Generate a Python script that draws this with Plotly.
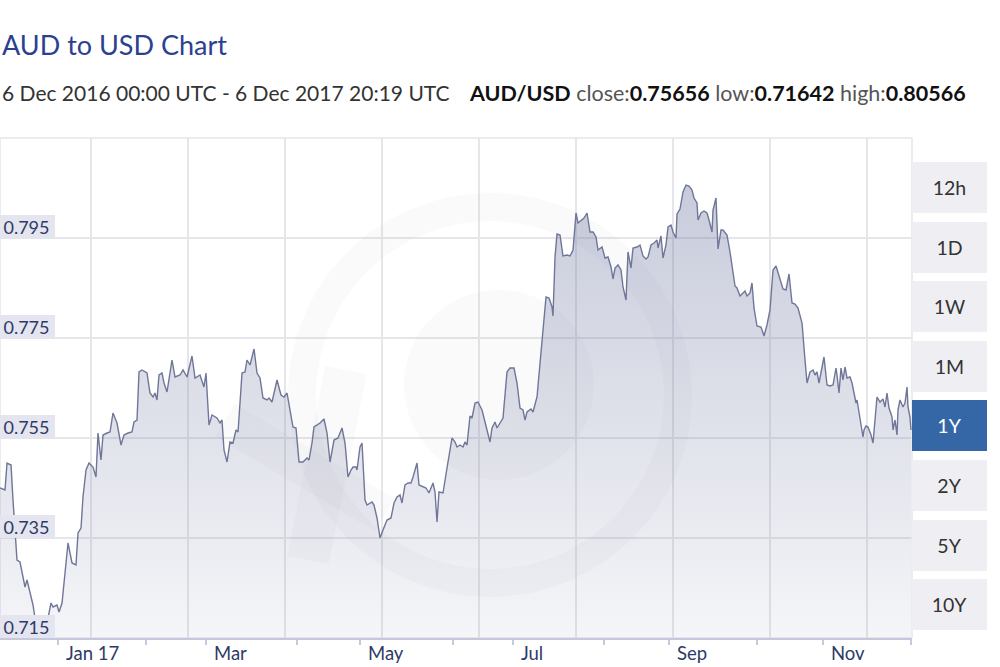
import pandas as pd
import plotly.graph_objects as go

# ---------------- data ----------------
START = pd.Timestamp("2016-12-06 00:00")  # start of the 1Y window (UTC)

# time of each quote, in days since START
day_offsets = [
    2.94, 4.93, 5.73, 7.32, 8.11, 8.91, 9.70, 10.89, 12.88, 13.68, 14.87, 16.06, 16.86, 18.05,
    19.64, 21.23, 22.43, 23.22, 24.02, 25.61, 26.40, 27.60, 28.79, 29.98, 31.57, 33.16, 33.96,
    35.15, 35.94, 37.14, 38.33, 39.92, 41.11, 41.91, 43.10, 43.90, 45.49, 46.68, 47.87, 49.46,
    51.05, 52.25, 53.84, 55.43, 56.22, 57.42, 58.21, 59.40, 61.39, 62.58, 63.78, 64.57, 65.37,
    66.16, 67.35, 68.15, 69.34, 71.33, 72.52, 74.51,
    75.71, 77.30, 79.28, 80.48, 82.46, 84.05, 84.85, 86.04, 87.24, 89.22, 90.42, 91.21, 92.01,
    93.20, 94.39, 95.59, 96.78, 97.58, 99.17, 100.36, 101.15, 102.35, 103.94, 105.13, 106.32,
    107.52, 109.11, 109.90, 111.09, 113.08, 114.67, 115.87, 117.06, 118.65, 119.44, 120.64,
    121.83, 123.42, 125.01, 125.81, 127.00, 127.79, 130.18, 131.77, 132.97, 134.16, 135.35,
    135.75, 137.34, 138.93, 140.12, 141.31, 142.51, 143.30, 144.49, 144.89, 146.08, 146.88,
    148.07, 148.87, 150.85, 151.65,
    152.84, 154.04, 155.23, 156.82, 158.41, 159.60, 160.80, 161.99, 162.78, 163.98, 165.17,
    166.36, 167.16, 168.75, 169.54, 171.13, 172.33, 173.52, 175.11, 175.90, 176.70, 177.49,
    179.08, 180.67, 182.66, 183.86, 184.65, 185.84, 187.04, 187.83, 188.63, 189.82, 190.61,
    191.81, 193.00, 194.59, 195.78, 197.77, 198.57, 199.76, 200.56, 202.94, 204.53, 205.73,
    207.32, 208.51, 209.70, 210.89, 211.69, 212.48, 214.07, 214.87, 216.46, 217.66, 218.85,
    220.04, 221.23, 222.43, 222.82, 223.62, 224.41, 225.61, 226.80, 228.39, 229.58,
    230.78, 231.97, 232.76, 233.95, 235.15, 236.34, 237.53, 238.73, 239.92, 240.72, 242.31,
    243.50, 244.69, 245.89, 246.68, 247.48, 248.67, 249.86, 250.66, 251.85, 252.64, 253.84,
    254.63, 256.22, 257.41, 258.61, 259.80, 260.60, 261.79, 262.98, 264.17, 264.57, 265.76,
    266.56, 267.75, 268.55, 269.74, 270.54, 271.73, 272.12, 273.32, 274.51, 275.70, 276.90,
    278.09, 278.88, 280.08, 280.47, 281.67, 282.86, 284.05, 284.85, 286.04, 286.44, 287.63,
    288.43, 289.62, 290.41, 292.00, 293.20, 294.39, 295.19, 295.98, 297.17, 298.37, 299.16,
    299.96, 301.15, 301.94, 302.74,
    303.93, 305.52, 306.72, 307.91, 309.10, 310.30, 311.49, 312.68, 314.27, 315.47, 316.66,
    317.85, 319.04, 320.24, 321.83, 323.02, 323.82, 325.01, 326.20, 327.00, 327.79, 328.59,
    329.78, 330.57, 331.77, 332.96, 334.15, 335.35, 335.74, 336.54, 337.33, 338.13, 338.92,
    339.72, 340.91, 341.71, 342.50, 343.30, 343.69, 344.49, 345.28, 346.08, 346.48, 347.27,
    348.07, 349.26, 350.06, 350.45, 351.25, 351.65, 352.84, 354.03, 354.83, 355.62, 356.42,
    357.61, 358.01, 358.80, 359.60, 359.99, 360.79, 361.98, 362.78, 363.58, 363.97, 364.76,
    365.16,
]

# AUD/USD rate at each quote
rates = [
    0.7450, 0.7446, 0.7500, 0.7496, 0.7426, 0.7352, 0.7306, 0.7302, 0.7252, 0.7266, 0.7240, 0.7216, 0.7190, 0.7170,
    0.7164, 0.7176, 0.7200, 0.7220, 0.7212, 0.7216, 0.7202, 0.7220, 0.7280, 0.7340, 0.7300, 0.7296, 0.7360,
    0.7370, 0.7432, 0.7486, 0.7500, 0.7492, 0.7472, 0.7560, 0.7506, 0.7556, 0.7560, 0.7562, 0.7600, 0.7580,
    0.7536, 0.7556, 0.7560, 0.7562, 0.7582, 0.7586, 0.7682, 0.7686, 0.7680, 0.7640, 0.7632, 0.7640, 0.7626,
    0.7676, 0.7680, 0.7660, 0.7642, 0.7706, 0.7672, 0.7676,
    0.7686, 0.7672, 0.7714, 0.7670, 0.7676, 0.7652, 0.7680, 0.7576, 0.7596, 0.7590, 0.7580, 0.7586, 0.7526,
    0.7502, 0.7542, 0.7540, 0.7566, 0.7562, 0.7680, 0.7682, 0.7706, 0.7696, 0.7728, 0.7680, 0.7670,
    0.7630, 0.7626, 0.7630, 0.7622, 0.7666, 0.7636, 0.7632, 0.7640, 0.7592, 0.7572, 0.7570,
    0.7502, 0.7502, 0.7510, 0.7506, 0.7540, 0.7572, 0.7580, 0.7588, 0.7560, 0.7502, 0.7530,
    0.7546, 0.7550, 0.7570, 0.7540, 0.7472, 0.7486, 0.7492, 0.7492, 0.7486, 0.7532, 0.7540,
    0.7426, 0.7416, 0.7422, 0.7416,
    0.7390, 0.7350, 0.7366, 0.7386, 0.7390, 0.7420, 0.7432, 0.7436, 0.7420, 0.7456, 0.7460,
    0.7460, 0.7472, 0.7500, 0.7456, 0.7452, 0.7450, 0.7440, 0.7460, 0.7442, 0.7382, 0.7442,
    0.7440, 0.7490, 0.7550, 0.7542, 0.7532, 0.7536, 0.7532, 0.7542, 0.7536, 0.7594, 0.7590,
    0.7620, 0.7622, 0.7606, 0.7580, 0.7542, 0.7570, 0.7582, 0.7570, 0.7590, 0.7682, 0.7690,
    0.7690, 0.7660, 0.7610, 0.7606, 0.7586, 0.7602, 0.7608, 0.7602, 0.7632, 0.7692, 0.7766,
    0.7832, 0.7830, 0.7812, 0.7794, 0.7912, 0.7958, 0.7956, 0.7914, 0.7916, 0.7914,
    0.7926, 0.8000, 0.7980, 0.7986, 0.7990, 0.8000, 0.7962, 0.7962, 0.7952, 0.7926, 0.7932,
    0.7910, 0.7912, 0.7892, 0.7868, 0.7890, 0.7896, 0.7886, 0.7852, 0.7826, 0.7922, 0.7890,
    0.7930, 0.7932, 0.7936, 0.7914, 0.7908, 0.7912, 0.7936, 0.7940, 0.7946, 0.7930, 0.7954,
    0.7910, 0.7936, 0.7972, 0.7976, 0.7962, 0.7950, 0.7998, 0.8008, 0.8042, 0.8056, 0.8054,
    0.8046, 0.8030, 0.8020, 0.7986, 0.8000, 0.8004, 0.8000, 0.7986, 0.7962, 0.8006, 0.8030,
    0.7928, 0.7966, 0.7966, 0.7956, 0.7922, 0.7886, 0.7854, 0.7850, 0.7834, 0.7840, 0.7844,
    0.7834, 0.7840, 0.7860, 0.7810,
    0.7774, 0.7772, 0.7754, 0.7776, 0.7806, 0.7886, 0.7894, 0.7876, 0.7848, 0.7846, 0.7878,
    0.7820, 0.7818, 0.7810, 0.7780, 0.7706, 0.7660, 0.7682, 0.7686, 0.7676, 0.7682, 0.7660,
    0.7690, 0.7712, 0.7656, 0.7654, 0.7656, 0.7690, 0.7676, 0.7640, 0.7690, 0.7666, 0.7692,
    0.7670, 0.7672, 0.7660, 0.7640, 0.7620, 0.7626, 0.7600, 0.7576, 0.7552, 0.7566, 0.7574,
    0.7572, 0.7556, 0.7540, 0.7566, 0.7612, 0.7632, 0.7622, 0.7628, 0.7612, 0.7640, 0.7610,
    0.7592, 0.7566, 0.7586, 0.7556, 0.7606, 0.7626, 0.7612, 0.7620, 0.7652, 0.7612, 0.7592,
    0.7566,
]

y_ticks = [0.715, 0.735, 0.755, 0.775, 0.795]
y_labels = ["0.715", "0.735", "0.755", "0.775", "0.795"]

month_ticks = ["2017-01-01", "2017-03-01", "2017-05-01", "2017-07-01", "2017-09-01", "2017-11-01"]
month_labels = ["Jan 17", "Mar", "May", "Jul", "Sep", "Nov"]
minor_ticks = ["2017-02-05", "2017-04-06", "2017-06-07", "2017-08-06", "2017-10-06", "2017-12-06"]

range_buttons = ["12h", "1D", "1W", "1M", "1Y", "2Y", "5Y", "10Y"]
active_button = "1Y"

title_text = "AUD to USD Chart"
period_text = "6 Dec 2016 00:00 UTC - 6 Dec 2017 20:19 UTC"
pair = "AUD/USD"
close_v, low_v, high_v = "0.75656", "0.71642", "0.80566"

# ---------------- figure ----------------
FONT = "Lato, 'Open Sans', sans-serif"
NAVY = "#2e3a68"
GRID = "#e6e6ea"
WM = "rgba(120,125,165,0.04)"   # faint watermark tint

dates = START + pd.to_timedelta(day_offsets, unit="D")
x_start = START + pd.Timedelta(days=2.94)
x_end = START + pd.Timedelta(days=365.56)

fig = go.Figure()
fig.add_trace(go.Scatter(
    x=dates, y=rates, mode="lines",
    line=dict(color="#6f7698", width=1.4),
    fill="tozeroy",
    fillgradient=dict(type="vertical",
                      colorscale=[[0, "rgba(110,118,160,0.07)"], [1, "rgba(110,118,160,0.38)"]],
                      start=0.715, stop=0.806),
    hoverinfo="skip", showlegend=False,
))
# helper trace so the vertical background grid axis exists
fig.add_trace(go.Scatter(x=[], y=[], xaxis="x2", yaxis="y", showlegend=False, hoverinfo="skip"))

PLOT_TOP, PLOT_BOTTOM, PLOT_RIGHT = 138, 638, 912
H = PLOT_BOTTOM - PLOT_TOP

def py(ypx):
    return (PLOT_BOTTOM - ypx) / H

def px(xpx):
    return xpx / PLOT_RIGHT

annotations = []
# title + subtitle
annotations.append(dict(text=title_text, x=0, xref="paper", xanchor="left", xshift=0,
                        y=py(44), yref="paper", yanchor="middle", showarrow=False,
                        font=dict(family=FONT, size=27, color="#2b4190")))
annotations.append(dict(text=period_text, x=0, xref="paper", xanchor="left", xshift=0,
                        y=py(93), yref="paper", yanchor="middle", showarrow=False,
                        font=dict(family=FONT, size=21, color="#333333")))
stats = (f"<b>{pair}</b> <span style='color:#555'>close:</span><b>{close_v}</b> "
         f"<span style='color:#555'>low:</span><b>{low_v}</b> "
         f"<span style='color:#555'>high:</span><b>{high_v}</b>")
annotations.append(dict(text=stats, x=px(467), xref="paper", xanchor="left",
                        y=py(93), yref="paper", yanchor="middle", showarrow=False,
                        font=dict(family=FONT, size=21.5, color="#111111")))

# y tick labels (boxed, inside plot)
for v, lbl in zip(y_ticks, y_labels):
    annotations.append(dict(text=lbl, x=0, xref="paper", xanchor="left", xshift=-2,
                            y=v, yref="y", yanchor="bottom", showarrow=False,
                            width=57, height=23, align="center", valign="middle",
                            bgcolor="#e4e5ef", borderpad=0, borderwidth=0,
                            font=dict(family=FONT, size=18, color=NAVY)))

# x month labels
for d, lbl in zip(month_ticks, month_labels):
    annotations.append(dict(text=lbl, x=d, xref="x", xanchor="left", xshift=6,
                            y=0, yref="paper", yanchor="middle", yshift=-15, showarrow=False,
                            font=dict(family=FONT, size=18.5, color=NAVY)))

# range buttons
for i, b in enumerate(range_buttons):
    active = b == active_button
    annotations.append(dict(text=b, x=px(949.5), xref="paper", xanchor="center",
                            y=py(187.5 + 59.6 * i), yref="paper", yanchor="middle",
                            showarrow=False, width=75, height=51, borderpad=0, borderwidth=0,
                            bgcolor="#3567a6" if active else "#efeff3",
                            font=dict(family=FONT, size=19.5,
                                      color="#ffffff" if active else "#333333")))

shapes = [
    # plot frame
    dict(type="rect", xref="paper", yref="paper", x0=0, x1=1, y0=0, y1=1,
         line=dict(color=GRID, width=1.5), fillcolor="rgba(0,0,0,0)", layer="below"),
    # faint "xe" watermark: outer ring, inner disc and the slanted x-bars
    dict(type="circle", xref="paper", yref="paper", x0=px(302), x1=px(678), y0=py(583), y1=py(207),
         line=dict(color=WM, width=28), fillcolor="rgba(0,0,0,0)", layer="above"),
    dict(type="circle", xref="paper", yref="paper", x0=px(404), x1=px(594), y0=py(480), y1=py(290),
         line=dict(width=0), fillcolor=WM, layer="above"),
    dict(type="line", xref="paper", yref="paper", x0=px(346), x1=px(308), y0=py(370), y1=py(560),
         line=dict(color=WM, width=42), layer="above"),
    dict(type="line", xref="paper", yref="paper", x0=px(225), x1=px(385), y0=py(420), y1=py(515),
         line=dict(color=WM, width=38), layer="above"),
]

fig.update_layout(
    width=1000, height=667,
    margin=dict(l=0, r=1000 - PLOT_RIGHT, t=PLOT_TOP, b=667 - PLOT_BOTTOM),
    paper_bgcolor="white", plot_bgcolor="white",
    showlegend=False,
    xaxis=dict(type="date", range=[x_start, x_end], showgrid=False, zeroline=False,
               tickvals=month_ticks + minor_ticks, showticklabels=False,
               ticks="outside", ticklen=5, tickcolor="#c6c9dd", tickwidth=1.5,
               showline=True, linecolor="#c6c9dd", linewidth=2),
    xaxis2=dict(overlaying="x", anchor="y", range=[0, 1], tick0=0.0998, dtick=0.1063,
                showgrid=True, gridcolor=GRID, gridwidth=1.5, showticklabels=False,
                ticks="", zeroline=False, showline=False),
    yaxis=dict(range=[0.715, 0.815], tickvals=y_ticks, showticklabels=False,
               showgrid=True, gridcolor=GRID, gridwidth=1.5, zeroline=False, showline=False),
    annotations=annotations,
    shapes=shapes,
)

fig.write_html("out.html", config={"displayModeBar": False},
               post_script="document.body.style.margin='0';")
